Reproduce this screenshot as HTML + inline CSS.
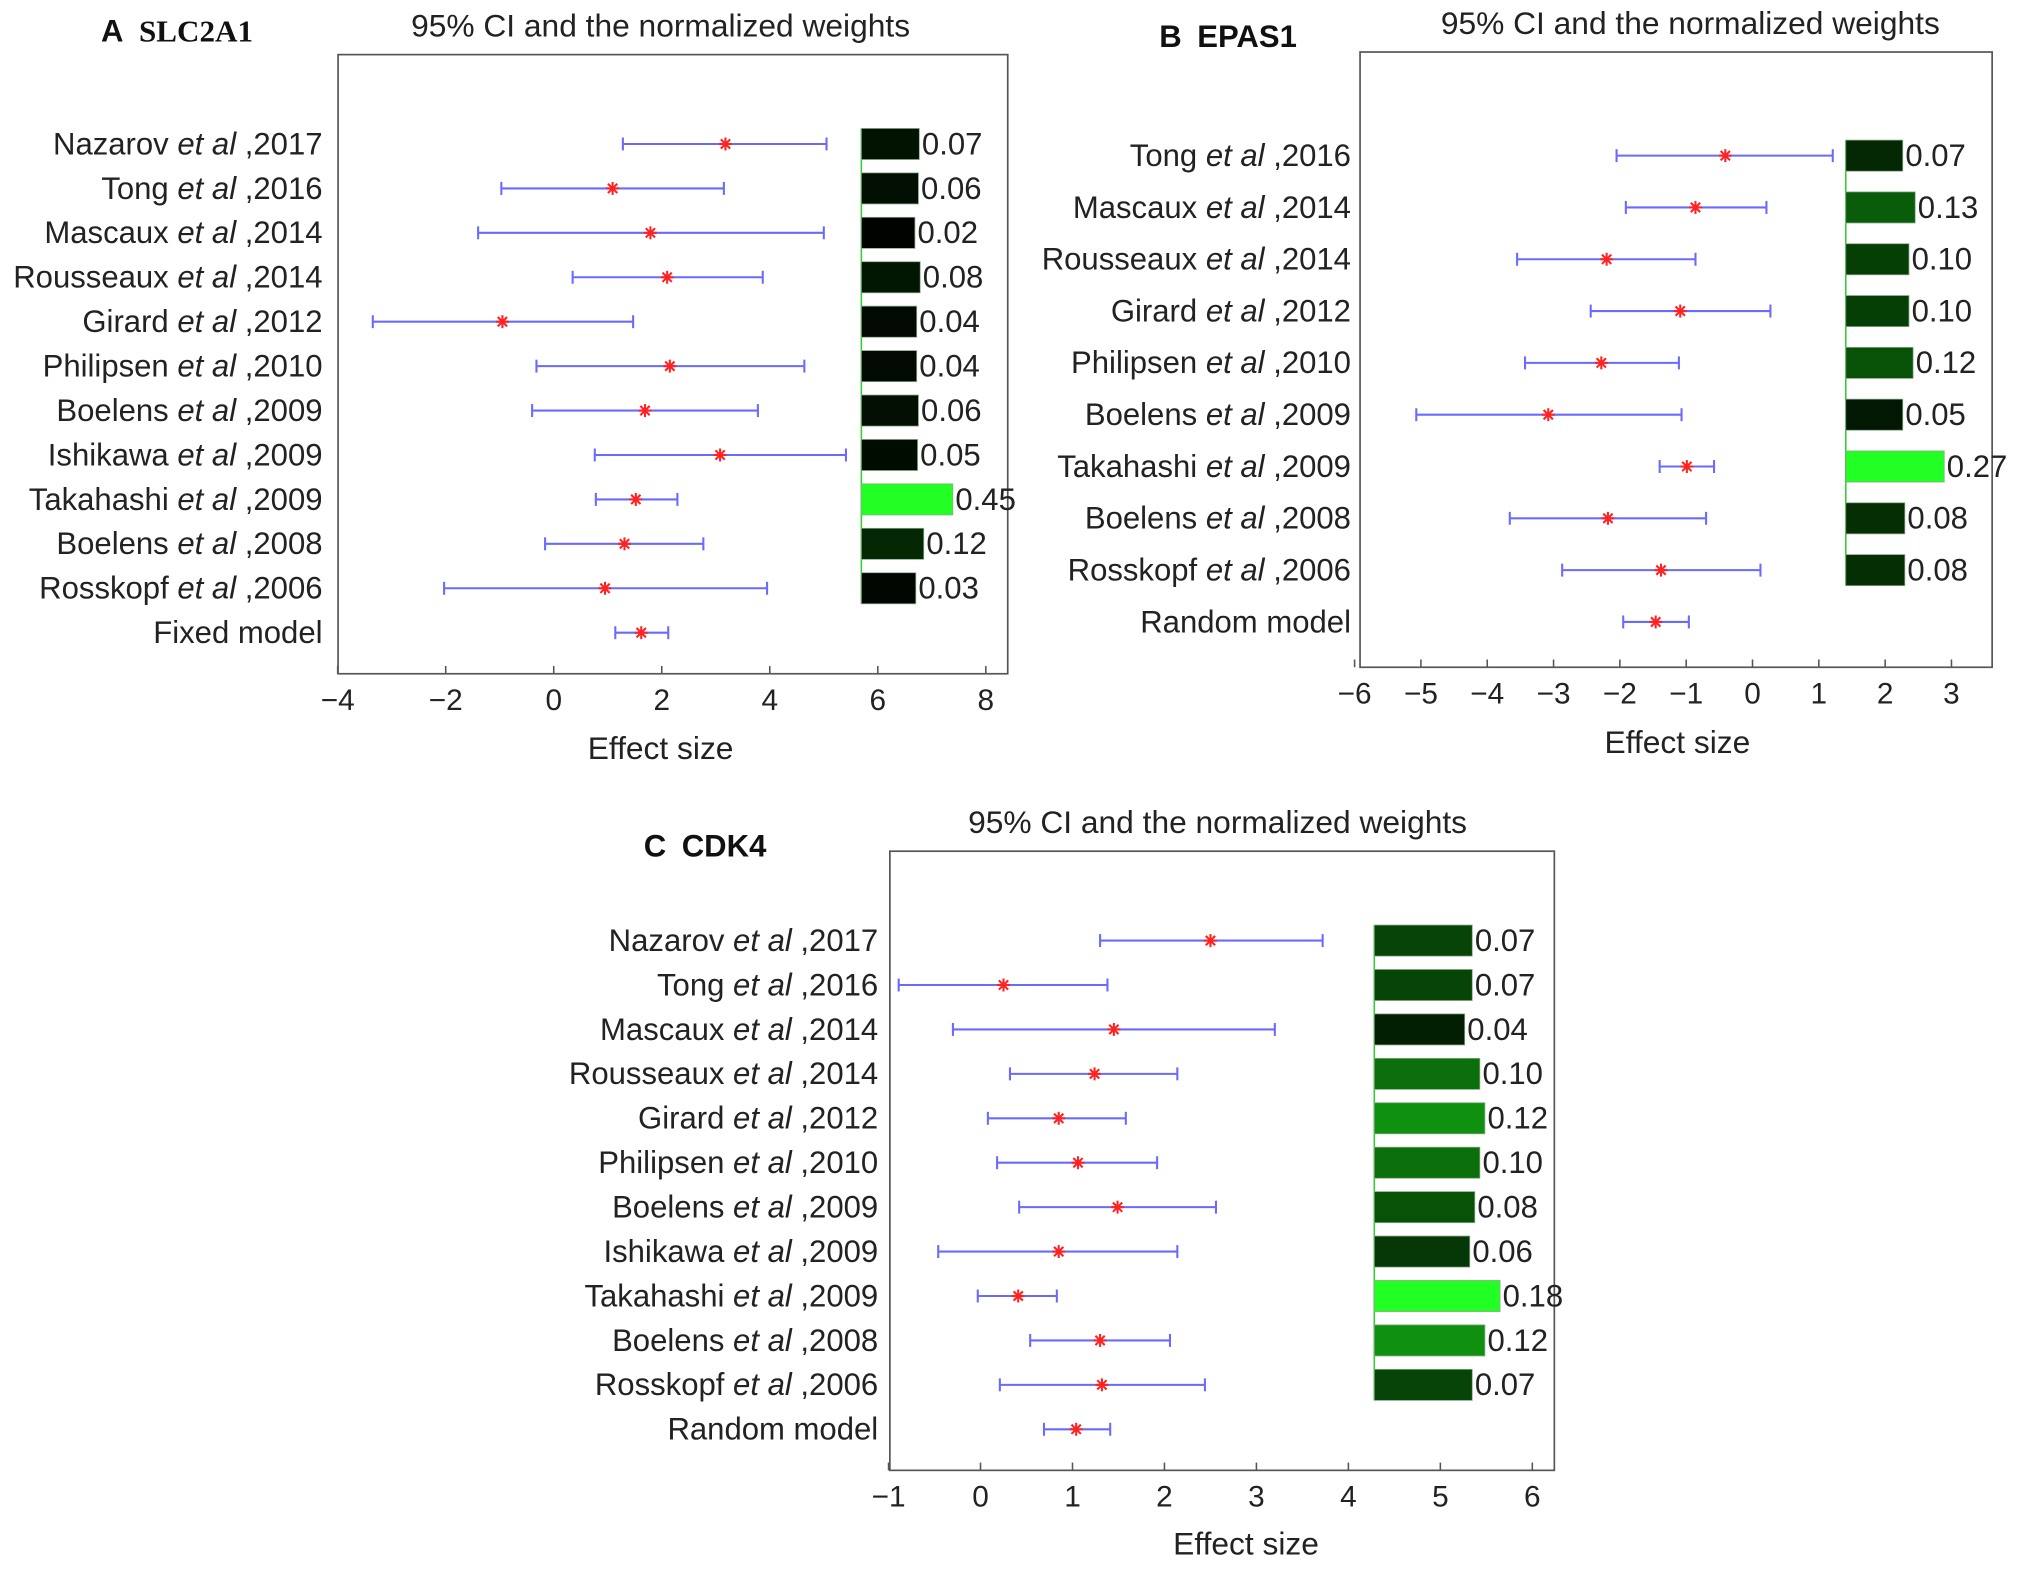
<!DOCTYPE html>
<html><head><meta charset="utf-8"><style>
html,body{margin:0;padding:0;background:#fff;}
svg{display:block;font-family:"Liberation Sans",Arial,sans-serif;}
</style></head><body>
<svg id="fig" width="2031" height="1569" viewBox="0 0 1568 1211" xmlns="http://www.w3.org/2000/svg">
<rect width="1568" height="1211" fill="#fff"/>
</svg>
<script>
// Panel A data
const aStudies=["Nazarov|2017","Tong|2016","Mascaux|2014","Rousseaux|2014","Girard|2012","Philipsen|2010","Boelens|2009","Ishikawa|2009","Takahashi|2009","Boelens|2008","Rosskopf|2006","Fixed model"];
const aLow=[1.28,-0.97,-1.4,0.35,-3.35,-0.32,-0.4,0.76,0.78,-0.16,-2.03,1.14];
const aEst=[3.18,1.09,1.79,2.1,-0.95,2.15,1.69,3.08,1.52,1.31,0.95,1.62];
const aHigh=[5.05,3.15,5.0,3.87,1.47,4.64,3.78,5.41,2.29,2.77,3.95,2.12];
const aWeights=[0.07,0.06,0.02,0.08,0.04,0.04,0.06,0.05,0.45,0.12,0.03];
const aTicks=[-4,-2,0,2,4,6,8];
// Panel B data
const bStudies=["Tong|2016","Mascaux|2014","Rousseaux|2014","Girard|2012","Philipsen|2010","Boelens|2009","Takahashi|2009","Boelens|2008","Rosskopf|2006","Random model"];
const bLow=[-2.05,-1.91,-3.55,-2.44,-3.43,-5.07,-1.4,-3.66,-2.87,-1.95];
const bEst=[-0.41,-0.86,-2.2,-1.09,-2.28,-3.08,-0.99,-2.18,-1.38,-1.46];
const bHigh=[1.21,0.21,-0.86,0.27,-1.11,-1.07,-0.58,-0.7,0.12,-0.96];
const bWeights=[0.07,0.13,0.10,0.10,0.12,0.05,0.27,0.08,0.08];
const bTicks=[-6,-5,-4,-3,-2,-1,0,1,2,3];
// Panel C data
const cStudies=["Nazarov|2017","Tong|2016","Mascaux|2014","Rousseaux|2014","Girard|2012","Philipsen|2010","Boelens|2009","Ishikawa|2009","Takahashi|2009","Boelens|2008","Rosskopf|2006","Random model"];
const cLow=[1.3,-0.89,-0.3,0.32,0.08,0.18,0.42,-0.46,-0.03,0.54,0.21,0.69];
const cEst=[2.5,0.25,1.45,1.24,0.85,1.06,1.49,0.85,0.41,1.3,1.32,1.04];
const cHigh=[3.72,1.38,3.2,2.14,1.58,1.92,2.56,2.14,0.83,2.06,2.44,1.41];
const cWeights=[0.07,0.07,0.04,0.10,0.12,0.10,0.08,0.06,0.18,0.12,0.07];
const cTicks=[-1,0,1,2,3,4,5,6];

const NS="http://www.w3.org/2000/svg";
const svg=document.getElementById('fig');
function mk(tag,attrs,parent){const e=document.createElementNS(NS,tag);for(const k in attrs)e.setAttribute(k,attrs[k]);(parent||svg).appendChild(e);return e;}

function panel(cfg){
  const g=mk('g',{});
  
  
  const sx=v=>cfg.x0+(v-cfg.origin)*cfg.unit;
  const box=mk('rect',{x:cfg.bx1,y:cfg.by1,width:cfg.bx2-cfg.bx1,height:cfg.by2-cfg.by1,fill:'none',stroke:'#555','stroke-width':1.3},g);
  
  
  const t=mk('text',{x:cfg.titleX,y:cfg.by1-14,'font-size':24.5,'text-anchor':'middle',fill:'#222'},g);
  t.textContent='95% CI and the normalized weights';
  
  
  const pl=mk('text',{x:cfg.plX,y:cfg.plY,'font-size':24,'font-weight':'bold',fill:'#111','font-family':cfg.serif?'"Liberation Serif",serif':'"Liberation Sans",sans-serif'},g);
  pl.innerHTML='<tspan font-family="Liberation Sans" font-weight="bold">'+cfg.letter+'</tspan>\u2002'+cfg.gene;
  
  
  cfg.ticks.forEach(v=>{
    const x=sx(v);
    const tk=mk('line',{x1:x,x2:x,y1:cfg.by2,y2:cfg.by2-6,stroke:'#555','stroke-width':1.2},g);
    
    
    const tl=mk('text',{x:x,y:cfg.by2+28,'font-size':23,'text-anchor':'middle',fill:'#222'},g);
    tl.textContent=v<0?'\u2212'+(-v):String(v);
    
    
  });
  const xl=mk('text',{x:cfg.xlabX,y:cfg.xlabY,'font-size':24.5,'text-anchor':'middle',fill:'#222'},g);
  xl.textContent='Effect size';
  
  
  const n=cfg.weights.length;
  const bl=mk('line',{x1:cfg.barX,x2:cfg.barX,y1:cfg.row0-12,y2:cfg.row0+(n-1)*cfg.rowH+12,stroke:'#3c3','stroke-width':1.2},g);
  
  
  const wmax=Math.max(...cfg.weights);
  cfg.studies.forEach((s,i)=>{
    const y=cfg.row0+i*cfg.rowH;
    const lab=mk('text',{x:cfg.labelX,y:y+8,'font-size':24,'text-anchor':'end',fill:'#222'},g);
    if(s.indexOf('|')>=0){const p=s.split('|');lab.innerHTML=p[0]+' <tspan font-style="italic">et al</tspan> ,'+p[1];}
    else lab.textContent=s;
    
    
    const lo=sx(cfg.low[i]),hi=sx(cfg.high[i]),es=sx(cfg.est[i]);
    const ci=mk('g',{stroke:'#6a6aff','stroke-width':1.6},g);
    
    
    mk('line',{x1:lo,x2:hi,y1:y,y2:y},ci);
    mk('line',{x1:lo,x2:lo,y1:y-5,y2:y+5},ci);
    mk('line',{x1:hi,x2:hi,y1:y-5,y2:y+5},ci);
    const st=mk('g',{stroke:'#f22','stroke-width':1.6},g);
    
    
    mk('line',{x1:es-5,x2:es+5,y1:y,y2:y},st);
    mk('line',{x1:es,x2:es,y1:y-5,y2:y+5},st);
    mk('line',{x1:es-3.6,x2:es+3.6,y1:y-3.6,y2:y+3.6},st);
    mk('line',{x1:es-3.6,x2:es+3.6,y1:y+3.6,y2:y-3.6},st);
    if(i<n){
      const w=cfg.weights[i];
      const bw=cfg.bw(w);
      const gv=Math.round(255*Math.pow(w/wmax,1.4));
      const col=w===wmax?'#22ff22':'rgb('+Math.round(gv*0.1)+','+gv+','+Math.round(gv*0.1)+')';
      const r=mk('rect',{x:cfg.barX,y:y-12,width:bw,height:24,fill:col,stroke:'#8a8','stroke-width':0.6},g);
      
      
      const wl=mk('text',{x:cfg.barX+bw+2,y:y+8,'font-size':24,fill:'#222'},g);
      wl.textContent=w.toFixed(2);
      
      
    }
  });
}
panel({id:'panel-a-slc2a1',letter:'A',gene:'SLC2A1',serif:true,plX:78,plY:32,bx1:261,by1:42,bx2:778,by2:520,titleX:510,
  x0:427.5,origin:0,unit:41.7,ticks:aTicks,xlabX:510,xlabY:586,labelX:249,row0:111,rowH:34.3,
  studies:aStudies,low:aLow,est:aEst,high:aHigh,weights:aWeights,barX:665,bw:w=>40+68*w});
panel({id:'panel-b-epas1',letter:'B',gene:'EPAS1',serif:false,plX:895,plY:36,bx1:1050,by1:40,bx2:1538,by2:515,titleX:1305,
  x0:1353,origin:0,unit:51.2,ticks:bTicks,xlabX:1295,xlabY:581,labelX:1043,row0:120,rowH:40,
  studies:bStudies,low:bLow,est:bEst,high:bHigh,weights:bWeights,barX:1425,bw:w=>44+160*Math.max(0,w-0.07)});
panel({id:'panel-c-cdk4',letter:'C',gene:'CDK4',serif:false,plX:497,plY:661,bx1:687,by1:657,bx2:1200,by2:1135,titleX:940,
  x0:757,origin:0,unit:71,ticks:cTicks,xlabX:962,xlabY:1200,labelX:678,row0:726,rowH:34.3,
  studies:cStudies,low:cLow,est:cEst,high:cHigh,weights:cWeights,barX:1061,bw:w=>62+195*w});
</script>
</body></html>
